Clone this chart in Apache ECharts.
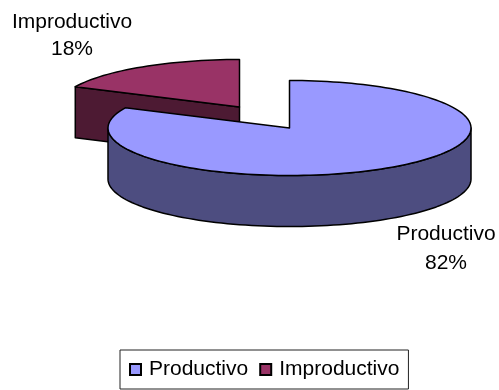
<!DOCTYPE html>
<html><head><meta charset="utf-8">
<style>html,body{margin:0;padding:0;background:#fff}#c{width:499px;height:390px}</style>
<script src="https://cdn.jsdelivr.net/npm/echarts@6/dist/echarts.min.js"></script>
</head><body><div id="c"></div>
<script>
const categories = ['Productivo', 'Improductivo'];
const values = [82, 18];
const topColors = ['#9999FF', '#993366'];
const wallColors = ['#4D4D80', '#4D1A33'];

const total = values.reduce((a, b) => a + b, 0);
const RX = 181.5, RY = 47.5, DEPTH = 51;
const centers = [[289.5, 128], [239.5, 107]];
const FONT = 'Liberation Sans, Arial, sans-serif';
const FS = 21;

function pt(c, deg, dy) {
  const a = deg * Math.PI / 180;
  return [c[0] + RX * Math.sin(a), c[1] - RY * Math.cos(a) + (dy || 0)];
}
function arc(c, from, to, dy) {
  const pts = [], n = Math.max(2, Math.round(Math.abs(to - from) / 2));
  for (let i = 0; i <= n; i++) pts.push(pt(c, from + (to - from) * i / n, dy));
  return pts;
}
function poly(points, fill) {
  return { type: 'polygon', silent: true, shape: { points },
    style: { fill, stroke: '#000', lineWidth: 1.5, lineJoin: 'round' } };
}
function label(x, y, name, pct, lh) {
  return { type: 'text', silent: true,
    style: { x, y, text: name + '\n' + pct + '%', fill: '#000', align: 'center', verticalAlign: 'middle',
      font: FS + 'px ' + FONT, lineHeight: lh } };
}
const slices = { 0: { start: 0, end: values[0] / total * 360 }, 1: { start: values[0] / total * 360, end: 360 } };

function renderSlice(idx) {
  return function () {
    const c = centers[idx], s = slices[idx], kids = [];
    const pct = Math.round(values[idx] / total * 100);
    if (idx === 0) {
      const wall = arc(c, 90, 270, 0).concat(arc(c, 270, 90, DEPTH));
      kids.push(poly(wall, wallColors[0]));
    } else {
      const e = pt(c, s.start, 0);
      kids.push(poly([c, e, [e[0], e[1] + DEPTH], [c[0], c[1] + DEPTH]], wallColors[1]));
    }
    kids.push(poly([c].concat(arc(c, s.start, s.end, 0)), topColors[idx]));
    kids.push(idx === 0 ? label(446, 249, categories[0], pct, 29) : label(72, 36, categories[1], pct, 27));
    return { type: 'group', children: kids };
  };
}

const chart = echarts.init(document.getElementById('c'), null, { renderer: 'canvas' });
chart.setOption({
  animation: false,
  backgroundColor: '#fff',
  tooltip: { show: false },
  legend: {
    left: 120, top: 350,
    padding: [9, 9, 9, 9],
    borderColor: '#222', borderWidth: 1,
    itemWidth: 11, itemHeight: 11, itemGap: 11,
    icon: 'rect',
    data: categories,
    selectedMode: false,
    textStyle: { fontFamily: FONT, fontSize: FS, color: '#000', padding: [0, 0, 0, 3] }
  },
  series: [
    { type: 'custom', name: categories[1], z: 1, coordinateSystem: 'none', data: [values[1]], renderItem: renderSlice(1),
      itemStyle: { color: topColors[1], borderColor: '#000', borderWidth: 1 } },
    { type: 'custom', name: categories[0], z: 2, coordinateSystem: 'none', data: [values[0]], renderItem: renderSlice(0),
      itemStyle: { color: topColors[0], borderColor: '#000', borderWidth: 1 } }
  ]
});
</script></body></html>
